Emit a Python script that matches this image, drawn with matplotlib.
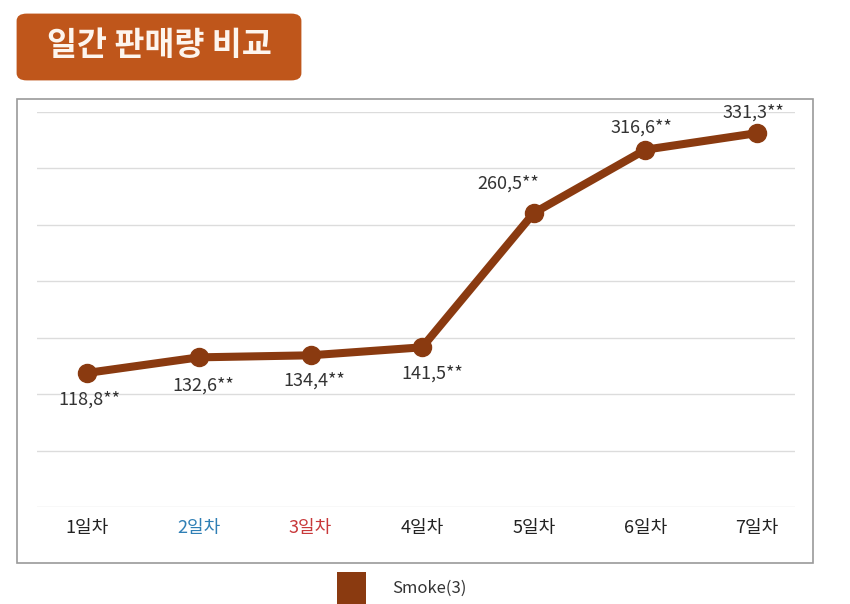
import matplotlib
matplotlib.use("Agg")
import matplotlib.pyplot as plt
from matplotlib.patches import FancyBboxPatch, Rectangle

plt.rcParams['font.family'] = ['Noto Sans CJK KR', 'DejaVu Sans']

days = ['1일차', '2일차', '3일차', '4일차', '5일차', '6일차', '7일차']
sales = [118.8, 132.6, 134.4, 141.5, 260.5, 316.6, 331.3]
series_name = 'Smoke(3)'

tick_colors = ['#222222', '#2f7fb5', '#c8383a', '#222222', '#222222', '#222222', '#222222']
# label offsets in pixels relative to each point
label_offsets = [(2, -27), (4, -28), (4, -25), (10, -26), (-26, 29), (-4, 22), (-4, 20)]

brown = '#8a3a10'
W, H = 850, 604

fig = plt.figure(figsize=(W / 100, H / 100), dpi=100)
fig.patch.set_facecolor('white')

# outer frame
fig.patches.append(Rectangle((17 / W, 1 - 563 / H), (813 - 17) / W, (563 - 99) / H,
                             transform=fig.transFigure, fill=False,
                             edgecolor='#9a9a9a', linewidth=1.2))

# title box
fig.patches.append(FancyBboxPatch((20 / W, 1 - 78 / H), (298 - 20) / W, (78 - 16) / H,
                                  boxstyle='round,pad=0.004,rounding_size=0.012',
                                  transform=fig.transFigure, facecolor='#bf561b',
                                  edgecolor='none'))
fig.text(159 / W, 1 - 46 / H, '일간 판매량 비교', color='#fdf5ee', fontsize=23.5,
         fontweight='bold', ha='center', va='center')

ax = fig.add_axes([37 / W, 1 - 507 / H, (795 - 37) / W, (507 - 112) / H])
x = list(range(len(days)))
ax.plot(x, sales, color=brown, linewidth=5.8, marker='o', markersize=13,
        solid_joinstyle='round', zorder=3)

ax.set_xlim(-0.45, 6.34)
ax.set_ylim(0, 350)
ax.set_yticks(range(0, 351, 50))
ax.yaxis.grid(True, color='#dcdcdc', linewidth=1)
ax.set_axisbelow(True)
ax.tick_params(axis='y', left=False, labelleft=False)
ax.tick_params(axis='x', length=0, pad=9, labelsize=13)
for s in ax.spines.values():
    s.set_visible(False)
ax.set_xticks(x)
ax.set_xticklabels(days)
for lbl, c in zip(ax.get_xticklabels(), tick_colors):
    lbl.set_color(c)

for xi, v, off in zip(x, sales, label_offsets):
    ax.annotate(f'{v:.1f}'.replace('.', ',') + '**', xy=(xi, v), xytext=off,
                textcoords='offset pixels', ha='center', va='center',
                fontsize=13, color='#333333')

# legend
fig.patches.append(Rectangle((337 / W, 0), (366 - 337) / W, (604 - 572) / H,
                             transform=fig.transFigure, facecolor=brown,
                             edgecolor='none'))
fig.text(392 / W, 1 - 588 / H, series_name, fontsize=12, color='#333333',
         ha='left', va='center')

fig.savefig('out.png', dpi=100)
